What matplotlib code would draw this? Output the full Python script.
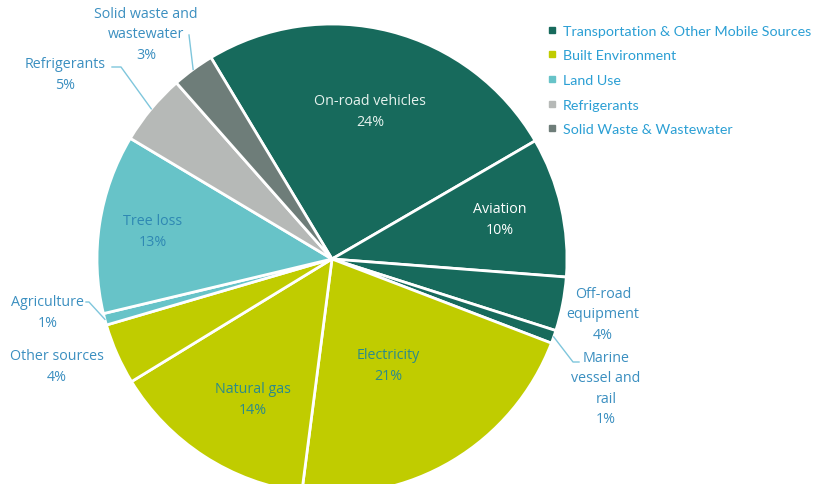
import numpy as np
import matplotlib.pyplot as plt
from matplotlib.lines import Line2D

# data (shares measured from the slice angles, labels as printed)
labels = ["On-road vehicles", "Aviation", "Off-road\nequipment", "Marine\nvessel and\nrail",
          "Electricity", "Natural gas", "Other sources", "Agriculture", "Tree loss",
          "Refrigerants", "Solid waste and\nwastewater"]
shares = [25.2, 9.6, 3.7, 0.9, 21.2, 14.2, 4.2, 0.8, 12.3, 4.9, 2.9]
pct_labels = [24, 10, 4, 1, 21, 14, 4, 1, 13, 5, 3]
groups = [0, 0, 0, 0, 1, 1, 1, 2, 2, 3, 4]

group_names = ["Transportation & Other Mobile Sources", "Built Environment", "Land Use",
               "Refrigerants", "Solid Waste & Wastewater"]
group_colors = ["#176a5c", "#c0cc00", "#67c3c8", "#b6b9b7", "#6e7d79"]

W, H = 817, 485
cx, cy, R = 332, H - 260, 235

fig = plt.figure(figsize=(W / 100, H / 100), dpi=100)
ax = fig.add_axes([0, 0, 1, 1])

font = "Open Sans"
wedges, _ = ax.pie(shares, colors=[group_colors[g] for g in groups], startangle=121,
                   counterclock=False, center=(cx, cy), radius=R,
                   wedgeprops=dict(edgecolor="white", linewidth=2), frame=True)
ax.set_xlim(0, W)
ax.set_ylim(0, H)
ax.set_aspect("equal")
ax.axis("off")

lblue = "#3b8fc0"
inside = {0: ((370, 112), "#e6f2ee"), 1: ((500, 220), "white"),
          4: ((388, 366), "#2b8a8c"), 5: ((253, 400), "#2b8a8c"), 8: ((153, 232), "#2f88b3")}
for i, ((x, y), c) in inside.items():
    ax.text(x, H - y, f"{labels[i]}\n{pct_labels[i]}%", ha="center", va="center",
            color=c, fontsize=10.3, family=font, linespacing=1.47)

# outside labels: index -> (text center, elbow, end)
outside = {
    10: ((146, 35), (189, 36), None),
    9: ((65, 75), (121, 68), (112, 68)),
    7: ((48, 313), (89, 303), (86, 303)),
    6: ((57, 367), None, None),
    2: ((603, 315), None, None),
    3: ((606, 389), (573, 363), (579, 363)),
}
for i, ((x, y), elbow, end) in outside.items():
    ax.text(x, H - y, f"{labels[i]}\n{pct_labels[i]}%", ha="center", va="center",
            color=lblue, fontsize=10.3, family=font, linespacing=1.47)
    if elbow is not None:
        w = wedges[i]
        th = np.deg2rad((w.theta1 + w.theta2) / 2)
        p0 = (cx + R * np.cos(th), cy + R * np.sin(th))
        pts = [p0, (elbow[0], H - elbow[1])]
        if end is not None:
            pts.append((end[0], H - end[1]))
        xs, ys = zip(*pts)
        ax.plot(xs, ys, color="#7fc6dc", lw=1)

handles = [Line2D([], [], marker="s", ls="", color=c, markersize=5) for c in group_colors]
leg = fig.legend(handles, group_names, loc="upper left", bbox_to_anchor=(535 / W, 1 - 13 / H),
                 frameon=False, handlelength=0.6, handletextpad=0.45, labelspacing=0.88,
                 prop=dict(family="Lato", size=10.3), labelcolor="#2b9fd4")

fig.savefig("out.png", dpi=100)
